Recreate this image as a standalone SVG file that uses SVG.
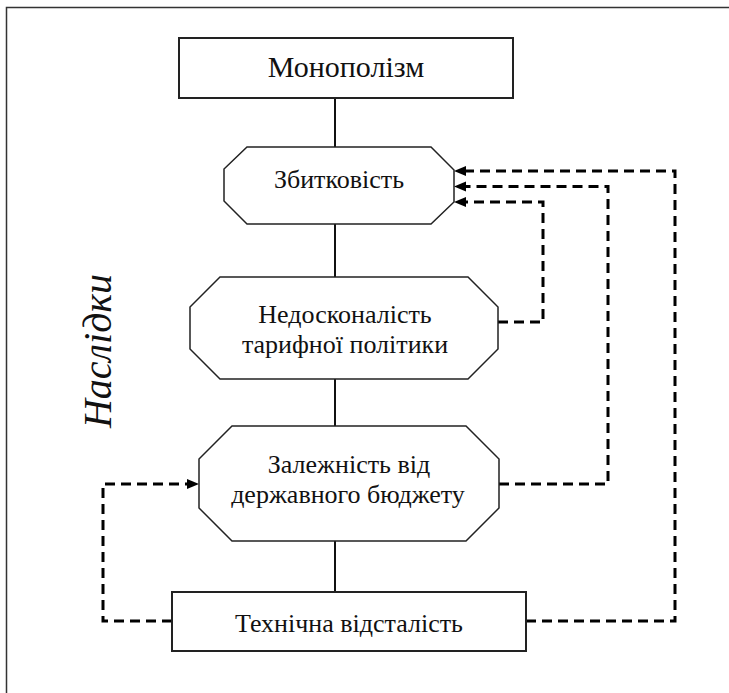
<svg xmlns="http://www.w3.org/2000/svg" width="729" height="693" viewBox="0 0 729 693">
<style>
.frame{fill:none;stroke:#333;stroke-width:1.5}
.box{fill:#fff;stroke:#222;stroke-width:2}
.oct{fill:#fff;stroke:#222;stroke-width:1.5}
.t{font-family:"Liberation Serif","Times New Roman",serif;font-size:26px;fill:#111;text-anchor:middle}
.big{font-size:30px}
.side{font-size:40px;font-style:italic}
.trunk{stroke:#111;stroke-width:2;fill:none}
.dash{stroke:#000;stroke-width:3;fill:none;stroke-dasharray:10 6}
</style>
<defs>
<marker id="ah" viewBox="0 0 12 12" refX="6" refY="6" markerWidth="12" markerHeight="12" markerUnits="userSpaceOnUse" orient="auto">
<path d="M0,1 L12,6 L0,11 z" fill="#000"/>
</marker>
</defs>
<rect width="729" height="693" fill="#fff"/>
<path class="frame" d="M6.5,693 V7.5 H729"/>
<text class="t side" transform="translate(111,351) rotate(-90)">Наслідки</text>
<g id="connectors">
<path class="trunk" d="M335,98 V147 M335,224 V277 M335,379 V426 M335,541 V592"/>
<path class="dash" marker-end="url(#ah)" d="M498,322 H543 V202 H460"/>
<path class="dash" marker-end="url(#ah)" d="M499,484 H608 V186.5 H460"/>
<path class="dash" marker-end="url(#ah)" d="M526,621 H675 V171 H460"/>
<path class="dash" marker-end="url(#ah)" d="M172,621 H103 V484 H193"/>
</g>
<g id="monopolizm">
<rect class="box" x="179" y="38" width="334" height="60"/>
<text class="t big" x="346" y="77">Монополізм</text>
</g>
<g id="zbytkovist">
<polygon class="oct" points="247,147 431,147 454,170 454,202 431,224 247,224 224,201 224,169"/>
<text class="t" x="339" y="188">Збитковість</text>
</g>
<g id="nedoskonalist">
<polygon class="oct" points="220,277 468,277 498,307 498,349 468,379 220,379 190,349 190,307"/>
<text class="t" x="345" y="323">Недосконалість</text>
<text class="t" x="345" y="353">тарифної політики</text>
</g>
<g id="zalezhnist">
<polygon class="oct" points="232,426 466,426 499,459 499,508 466,541 232,541 199,508 199,459"/>
<text class="t" x="349" y="473">Залежність від</text>
<text class="t" x="348" y="503">державного бюджету</text>
</g>
<g id="tekhnichna">
<rect class="box" x="172" y="592" width="354" height="59"/>
<text class="t" x="349" y="632">Технічна відсталість</text>
</g>
</svg>
